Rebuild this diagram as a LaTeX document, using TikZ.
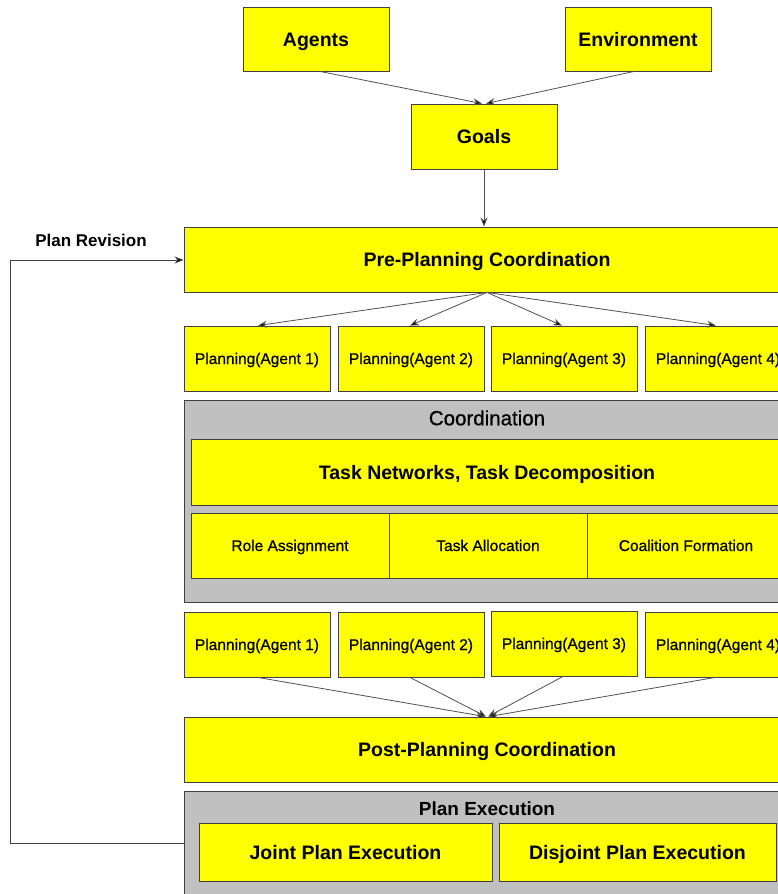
\documentclass[tikz,border=0pt]{standalone}
\usepackage{fontspec}
\setmainfont{Liberation Sans}
\newfontfamily\medfont[FakeBold=0.7]{Liberation Sans}
\usetikzlibrary{arrows.meta}
\definecolor{yel}{HTML}{FFFF00}
\definecolor{grayfill}{HTML}{C0C0C0}
\definecolor{bordc}{HTML}{404040}
\definecolor{arrc}{HTML}{505050}
\tikzset{
  ybox/.style={draw=bordc, fill=yel, line width=0.9pt, inner sep=0pt, rectangle,
    text height=14pt, text depth=0pt,
    font=\bfseries\fontsize{19.5}{22}\selectfont},
  pbox/.style={draw=bordc, fill=yel, line width=0.9pt, inner sep=0pt, rectangle,
    text height=11pt, text depth=0pt,
    minimum width=146pt, minimum height=65pt, font=\medfont\fontsize{15.5}{18}\selectfont},
  sbox/.style={pbox, minimum width=198pt},
  gbox/.style={draw=bordc, fill=grayfill, line width=0.9pt, inner sep=0pt, rectangle},
  gtitle/.style={inner sep=0pt, text height=14.5pt, text depth=0pt},
  conn/.style={draw=arrc, line width=0.8pt, -{Stealth[length=9pt,width=7pt,fill=black]}},
}
\begin{document}
\begin{tikzpicture}[x=1pt,y=-1pt]
\useasboundingbox (0,0) rectangle (778,894);
\clip (0,0) rectangle (778,894);
\fill[white] (0,0) rectangle (778,894);

% top
\node[ybox, minimum width=146pt, minimum height=64pt] (agents) at (316,39) {Agents};
\node[ybox, minimum width=146pt, minimum height=64pt] (env) at (638,39) {Environment};
\node[ybox, minimum width=146pt, minimum height=65pt] (goals) at (484,136.5) {Goals};

\node[ybox, minimum width=606pt, minimum height=65pt] (pre) at (487,259.5) {Pre-Planning Coordination};
\node[gtitle, text height=12.2pt, font=\bfseries\fontsize{17}{20}\selectfont] (rev) at (91,240) {Plan Revision};

% planning row 1
\node[pbox] (p1) at (257,358.5) {Planning(Agent 1)};
\node[pbox] (p2) at (411,358.5) {Planning(Agent 2)};
\node[pbox] (p3) at (564,358.5) {Planning(Agent 3)};
\node[pbox] (p4) at (718,358.5) {Planning(Agent 4)};

% coordination group
\node[gbox, minimum width=606pt, minimum height=202pt] (coord) at (487,501) {};
\node[gtitle, font=\medfont\fontsize{20.5}{23}\selectfont] (coordt) at (487,418) {Coordination};
\node[ybox, minimum width=592pt, minimum height=66pt] (tn) at (487,472) {Task Networks, Task Decomposition};
\node[sbox] (role) at (290,545.5) {Role Assignment};
\node[sbox] (alloc) at (488,545.5) {Task Allocation};
\node[sbox] (coal) at (686,545.5) {Coalition Formation};

% planning row 2
\node[pbox] (q1) at (257,644.5) {Planning(Agent 1)};
\node[pbox] (q2) at (411,644.5) {Planning(Agent 2)};
\node[pbox] (q3) at (564,643.5) {Planning(Agent 3)};
\node[pbox] (q4) at (718,644.5) {Planning(Agent 4)};

\node[ybox, minimum width=606pt, minimum height=65pt] (post) at (487,749.5) {Post-Planning Coordination};

% plan execution group
\node[gbox, minimum width=606pt, minimum height=110pt] (exec) at (487,846) {};
\node[gtitle, text height=13.7pt, font=\bfseries\fontsize{19}{22}\selectfont] (exect) at (487,809) {Plan Execution};
\node[ybox, minimum width=293pt, minimum height=58pt] (joint) at (345.5,852) {Joint Plan Execution};
\node[ybox, minimum width=277pt, minimum height=58pt] (disj) at (637.5,852) {Disjoint Plan Execution};

% connectors
\draw[conn] ([xshift=4pt]agents.south) -- ([xshift=-2pt]goals.north);
\draw[conn] ([xshift=-4pt]env.south) -- ([xshift=2pt]goals.north);
\draw[conn] (goals.south) -- (goals.south |- pre.north);

\draw[conn] (pre.south) -- ([xshift=1pt]p1.north);
\draw[conn] (pre.south) -- ([xshift=-1pt]p2.north);
\draw[conn] (pre.south) -- ([xshift=-2pt]p3.north);
\draw[conn] (pre.south) -- ([xshift=-2pt]p4.north);

\draw[conn] ([xshift=1pt]q1.south) -- ([xshift=-2pt]post.north);
\draw[conn] ([xshift=-1pt]q2.south) -- ([xshift=-1pt]post.north);
\draw[conn] ([xshift=-1pt]q3.south) -- ([xshift=1pt]post.north);
\draw[conn] ([xshift=-3pt]q4.south) -- ([xshift=2pt]post.north);

\coordinate (fb1) at (10,843);
\coordinate (fb2) at (10,260);
\draw[conn, draw=black!75] (exec.west |- fb1) -- (fb1) -- (fb2) -- (pre.west |- fb2);
\end{tikzpicture}
\end{document}
